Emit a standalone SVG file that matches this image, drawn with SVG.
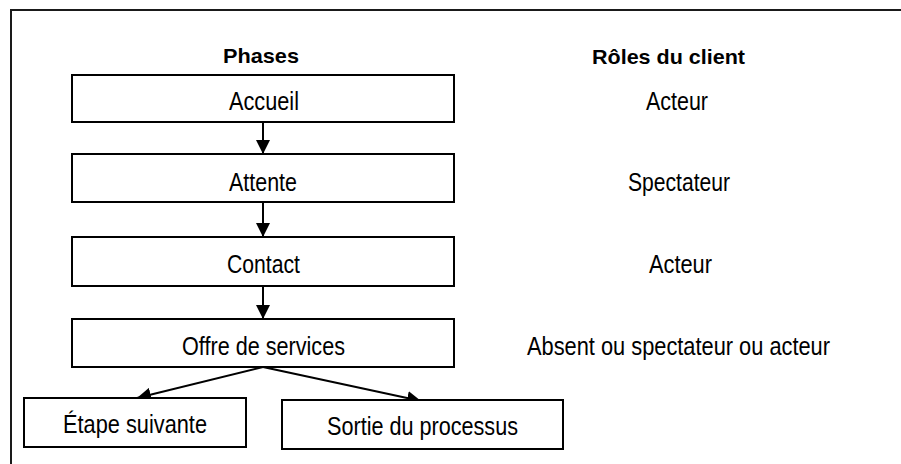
<svg xmlns="http://www.w3.org/2000/svg" width="901" height="464" viewBox="0 0 901 464">
  <defs>
    <style>
      .box { fill: #ffffff; stroke: #000000; stroke-width: 2; }
      .frame { fill: none; stroke: #1a1a1a; stroke-width: 2; }
      .lbl { font-family: "Liberation Sans", Arial, sans-serif; font-size: 25px; fill: #000000; text-anchor: start; }
      .hdr { font-weight: bold; font-size: 21px; }
      .link { fill: none; stroke: #000000; stroke-width: 2; marker-end: url(#tip); }
    </style>
    <marker id="tip" markerUnits="userSpaceOnUse" viewBox="0 0 14 14" refX="14" refY="7" markerWidth="14" markerHeight="14" orient="auto">
      <path d="M0,0 L14,7 L0,14 Z" fill="#000000"/>
    </marker>
  </defs>

  <rect width="901" height="464" fill="#ffffff"/>
  <rect class="frame" x="11" y="10" width="900" height="470"/>

  <!-- column headings -->
  <text class="lbl hdr" x="223" y="63" textLength="76" lengthAdjust="spacingAndGlyphs">Phases</text>
  <text class="lbl hdr" x="592" y="64" textLength="153" lengthAdjust="spacingAndGlyphs">Rôles du client</text>

  <!-- connectors -->
  <g id="connectors">
    <line class="link" x1="263" y1="122" x2="263" y2="154"/>
    <line class="link" x1="263" y1="202" x2="263" y2="237"/>
    <line class="link" x1="263" y1="283" x2="263" y2="319"/>
    <line class="link" x1="263" y1="367" x2="137" y2="398"/>
    <line class="link" x1="263" y1="367" x2="421" y2="401"/>
  </g>

  <g id="accueil">
    <rect class="box" x="72" y="75" width="382" height="47"/>
    <text class="lbl" x="229" y="110" textLength="70" lengthAdjust="spacingAndGlyphs">Accueil</text>
  </g>
  <g id="attente">
    <rect class="box" x="72" y="154" width="382" height="48"/>
    <text class="lbl" x="229" y="191" textLength="68" lengthAdjust="spacingAndGlyphs">Attente</text>
  </g>
  <g id="contact">
    <rect class="box" x="72" y="237" width="382" height="49"/>
    <text class="lbl" x="227" y="273" textLength="73" lengthAdjust="spacingAndGlyphs">Contact</text>
  </g>
  <g id="offre">
    <rect class="box" x="72" y="319" width="382" height="48"/>
    <text class="lbl" x="182" y="355" textLength="163" lengthAdjust="spacingAndGlyphs">Offre de services</text>
  </g>
  <g id="etape">
    <rect class="box" x="24" y="398" width="222" height="49"/>
    <text class="lbl" x="63" y="433" textLength="144" lengthAdjust="spacingAndGlyphs">Étape suivante</text>
  </g>
  <g id="sortie">
    <rect class="box" x="282" y="400" width="281" height="49"/>
    <text class="lbl" x="327" y="435" textLength="191" lengthAdjust="spacingAndGlyphs">Sortie du processus</text>
  </g>

  <!-- client roles -->
  <g id="roles">
    <text class="lbl" x="646" y="110" textLength="62" lengthAdjust="spacingAndGlyphs">Acteur</text>
    <text class="lbl" x="628" y="191" textLength="102" lengthAdjust="spacingAndGlyphs">Spectateur</text>
    <text class="lbl" x="649" y="273" textLength="63" lengthAdjust="spacingAndGlyphs">Acteur</text>
    <text class="lbl" x="527" y="355" textLength="303" lengthAdjust="spacingAndGlyphs">Absent ou spectateur ou acteur</text>
  </g>
</svg>
